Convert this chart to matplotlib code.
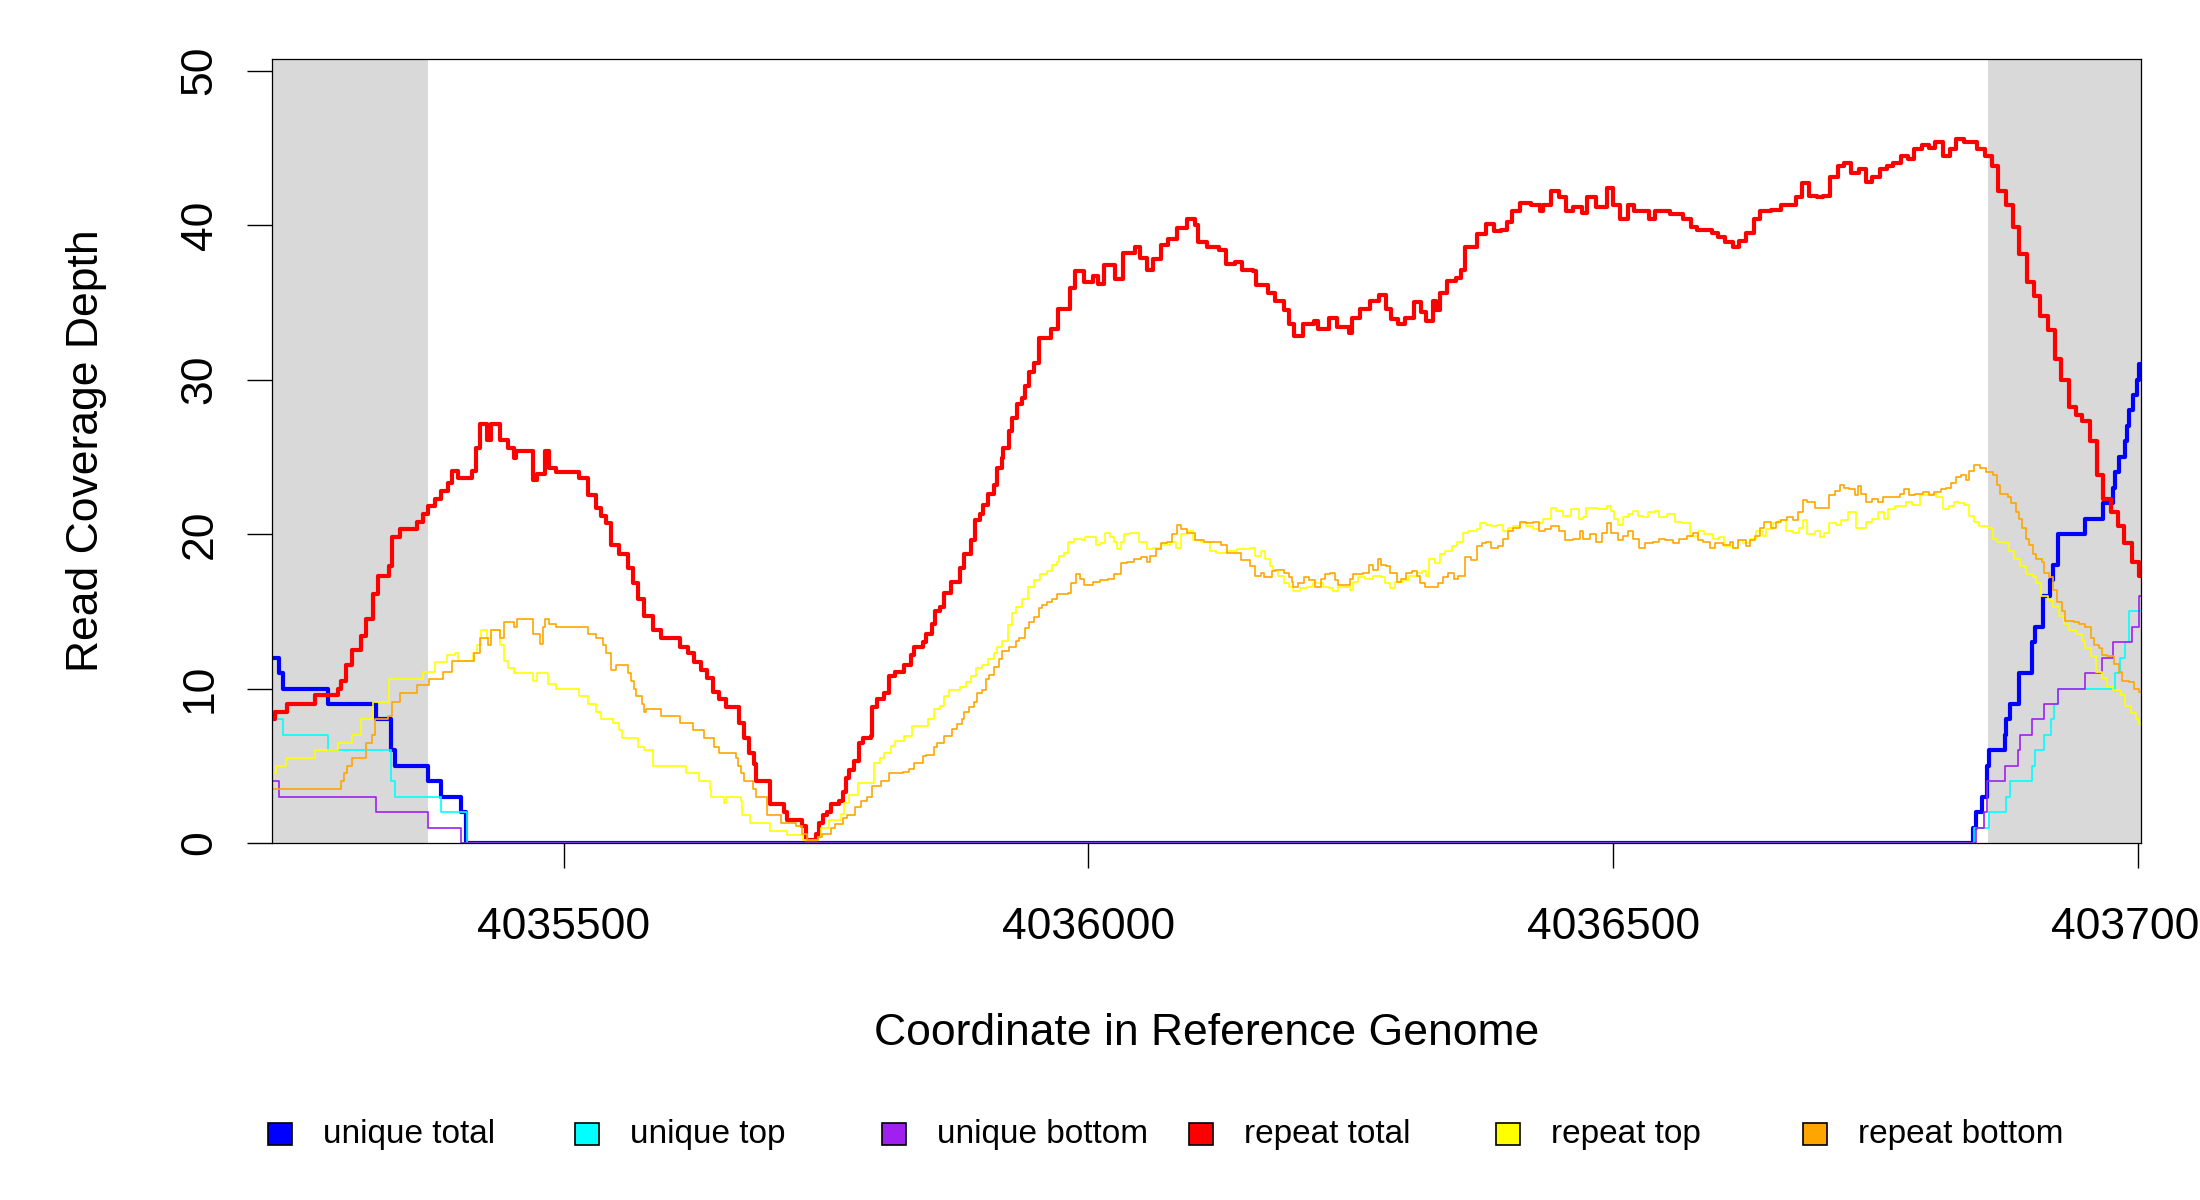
import matplotlib
matplotlib.use("Agg")
import matplotlib.pyplot as plt
from matplotlib.patches import Rectangle

plt.rcParams['font.family'] = ['Liberation Sans', 'DejaVu Sans']

# coverage traces (position, depth), drawn as steps
unique_total_pos = [4035222, 4035229, 4035233, 4035275, 4035321, 4035335, 4035339, 4035371, 4035383, 4035402,
                    4035407, 4036843, 4036846, 4036851, 4036856, 4036858, 4036873, 4036874, 4036878, 4036887,
                    4036899, 4036902, 4036910, 4036916, 4036919, 4036924, 4036950, 4036967, 4036976, 4036978,
                    4036982, 4036988, 4036990, 4036992, 4036995, 4036999, 4037001]
unique_total_depth = [12, 11, 10, 9, 8, 6, 5, 4, 3, 2,
                      0, 1, 2, 3, 5, 6, 7, 8, 9, 11,
                      13, 14, 16, 17, 18, 20, 21, 22, 23, 24,
                      25, 26, 27, 28, 29, 30, 31]

unique_top_pos = [4035222, 4035233, 4035275, 4035335, 4035339, 4035383, 4035408, 4036844, 4036858, 4036874,
                  4036878, 4036899, 4036902, 4036911, 4036917, 4036920, 4036924, 4036978, 4036983, 4036988,
                  4036992]
unique_top_depth = [8, 7, 6, 4, 3, 2, 0, 1, 2, 3,
                    4, 5, 6, 7, 8, 9, 10, 11, 12, 13,
                    15]

unique_bottom_pos = [4035222, 4035229, 4035321, 4035371, 4035402, 4036846, 4036853, 4036856, 4036873, 4036886,
                     4036888, 4036899, 4036911, 4036924, 4036950, 4036966, 4036976, 4036994, 4037001]
unique_bottom_depth = [4, 3, 2, 1, 0, 1, 2, 4, 5, 6,
                       7, 8, 9, 10, 11, 12, 13, 14, 16]

repeat_total_pos = [
    4035222, 4035225, 4035236, 4035263, 4035285, 4035288, 4035293, 4035298, 4035307, 4035312,
    4035318, 4035323, 4035334, 4035336, 4035344, 4035360, 4035366, 4035371, 4035377, 4035383,
    4035390, 4035394, 4035399, 4035413, 4035416, 4035420, 4035427, 4035431, 4035439, 4035447,
    4035453, 4035455, 4035471, 4035475, 4035482, 4035486, 4035493, 4035515, 4035523, 4035531,
    4035536, 4035540, 4035545, 4035553, 4035561, 4035566, 4035571, 4035577, 4035585, 4035593,
    4035611, 4035618, 4035624, 4035631, 4035637, 4035642, 4035648, 4035655, 4035667, 4035672,
    4035677, 4035681, 4035683, 4035697, 4035710, 4035713, 4035727, 4035731, 4035740, 4035743,
    4035747, 4035751, 4035755, 4035762, 4035766, 4035769, 4035772, 4035777, 4035781, 4035785,
    4035793, 4035794, 4035799, 4035805, 4035810, 4035816, 4035824, 4035831, 4035834, 4035842,
    4035845, 4035851, 4035854, 4035859, 4035862, 4035869, 4035878, 4035881, 4035888, 4035892,
    4035897, 4035900, 4035904, 4035910, 4035913, 4035918, 4035919, 4035924, 4035927, 4035932,
    4035937, 4035940, 4035943, 4035948, 4035953, 4035964, 4035971, 4035982, 4035987, 4035996,
    4036004, 4036009, 4036015, 4036025, 4036033, 4036044, 4036049, 4036056, 4036062, 4036069,
    4036076, 4036084, 4036094, 4036102, 4036104, 4036113, 4036124, 4036131, 4036140, 4036146,
    4036157, 4036160, 4036171, 4036178, 4036186, 4036191, 4036196, 4036204, 4036215, 4036219,
    4036229, 4036237, 4036248, 4036251, 4036259, 4036268, 4036277, 4036284, 4036288, 4036295,
    4036302, 4036310, 4036317, 4036322, 4036328, 4036331, 4036335, 4036342, 4036350, 4036355,
    4036359, 4036370, 4036379, 4036386, 4036393, 4036399, 4036404, 4036411, 4036422, 4036430,
    4036433, 4036441, 4036448, 4036455, 4036462, 4036470, 4036475, 4036484, 4036494, 4036500,
    4036507, 4036514, 4036520, 4036534, 4036540, 4036554, 4036567, 4036574, 4036580, 4036594,
    4036600, 4036607, 4036614, 4036620, 4036627, 4036634, 4036640, 4036650, 4036660, 4036674,
    4036680, 4036687, 4036694, 4036700, 4036707, 4036714, 4036720, 4036727, 4036734, 4036741,
    4036747, 4036754, 4036761, 4036767, 4036774, 4036781, 4036787, 4036794, 4036801, 4036807,
    4036814, 4036821, 4036827, 4036834, 4036847, 4036854, 4036861, 4036867, 4036874, 4036881,
    4036887, 4036894, 4036901, 4036907, 4036914, 4036921, 4036927, 4036934, 4036941, 4036947,
    4036954, 4036961, 4036967, 4036974, 4036981, 4036987, 4036994, 4037001]
repeat_total_depth = [
    8.0, 8.5, 9.0, 9.6, 10.0, 10.5, 11.5, 12.5, 13.4, 14.5,
    16.1, 17.3, 17.9, 19.8, 20.3, 20.8, 21.3, 21.8, 22.3, 22.8,
    23.3, 24.1, 23.6, 24.1, 25.6, 27.1, 26.1, 27.1, 26.1, 25.6,
    24.9, 25.4, 23.5, 23.9, 25.4, 24.3, 24.0, 23.6, 22.5, 21.7,
    21.2, 20.7, 19.3, 18.7, 17.8, 16.8, 15.8, 14.7, 13.8, 13.3,
    12.7, 12.3, 11.7, 11.2, 10.7, 9.8, 9.3, 8.8, 7.8, 6.8,
    5.8, 5.1, 4.0, 2.5, 2.0, 1.5, 1.1, 0.2, 0.6, 1.3,
    1.8, 2.0, 2.5, 2.7, 3.3, 4.2, 4.7, 5.3, 6.5, 6.8,
    6.9, 8.8, 9.3, 9.7, 10.8, 11.1, 11.5, 12.2, 12.7, 13.0,
    13.5, 14.2, 15.0, 15.3, 16.2, 16.9, 17.8, 18.7, 19.6, 20.9,
    21.3, 21.9, 22.6, 23.2, 24.3, 24.9, 25.6, 26.7, 27.5, 28.4,
    28.8, 29.6, 30.5, 31.1, 32.7, 33.3, 34.6, 35.9, 37.0, 36.3,
    36.7, 36.2, 37.4, 36.5, 38.2, 38.6, 37.9, 37.1, 37.8, 38.7,
    39.1, 39.8, 40.4, 40.0, 38.9, 38.6, 38.4, 37.5, 37.6, 37.1,
    37.0, 36.1, 35.6, 35.1, 34.5, 33.6, 32.8, 33.6, 33.8, 33.3,
    34.0, 33.4, 33.0, 34.0, 34.6, 35.1, 35.5, 34.6, 33.9, 33.6,
    34.0, 35.0, 34.4, 33.8, 35.1, 34.5, 35.6, 36.4, 36.6, 37.1,
    38.6, 39.4, 40.1, 39.6, 39.7, 40.2, 40.9, 41.4, 41.3, 40.9,
    41.3, 42.2, 41.8, 40.9, 41.2, 40.8, 41.8, 41.2, 42.4, 41.3,
    40.4, 41.3, 40.9, 40.4, 40.9, 40.7, 40.4, 39.9, 39.7, 39.5,
    39.2, 38.9, 38.6, 39.0, 39.5, 40.4, 40.9, 41.0, 41.3, 41.8,
    42.7, 41.9, 41.8, 41.9, 43.1, 43.8, 44.0, 43.4, 43.6, 42.8,
    43.1, 43.6, 43.8, 44.0, 44.5, 44.3, 44.9, 45.2, 45.0, 45.4,
    44.5, 44.9, 45.6, 45.4, 44.9, 44.5, 43.8, 42.2, 41.3, 39.9,
    38.1, 36.3, 35.4, 34.1, 33.2, 31.3, 30.0, 28.2, 27.7, 27.3,
    26.0, 23.8, 22.3, 21.4, 20.5, 19.4, 18.2, 17.3]

repeat_top_pos = [
    4035222, 4035226, 4035235, 4035263, 4035285, 4035298, 4035307, 4035318, 4035334, 4035366,
    4035377, 4035389, 4035396, 4035399, 4035414, 4035417, 4035421, 4035427, 4035431, 4035439,
    4035443, 4035447, 4035453, 4035471, 4035475, 4035485, 4035493, 4035515, 4035523, 4035531,
    4035536, 4035547, 4035553, 4035556, 4035571, 4035577, 4035585, 4035617, 4035629, 4035639,
    4035640, 4035653, 4035655, 4035669, 4035670, 4035678, 4035697, 4035713, 4035728, 4035742,
    4035745, 4035753, 4035764, 4035767, 4035772, 4035780, 4035796, 4035801, 4035805, 4035812,
    4035816, 4035824, 4035832, 4035847, 4035853, 4035859, 4035862, 4035867, 4035878, 4035883,
    4035888, 4035893, 4035899, 4035904, 4035910, 4035913, 4035918, 4035923, 4035927, 4035931,
    4035937, 4035942, 4035948, 4035954, 4035961, 4035965, 4035970, 4035972, 4035977, 4035981,
    4035986, 4035994, 4035997, 4036007, 4036011, 4036016, 4036021, 4036024, 4036027, 4036031,
    4036034, 4036040, 4036048, 4036056, 4036062, 4036069, 4036078, 4036083, 4036088, 4036094,
    4036100, 4036107, 4036116, 4036122, 4036132, 4036142, 4036154, 4036159, 4036164, 4036168,
    4036173, 4036176, 4036181, 4036186, 4036191, 4036195, 4036202, 4036208, 4036214, 4036224,
    4036229, 4036233, 4036238, 4036249, 4036252, 4036257, 4036264, 4036271, 4036279, 4036283,
    4036287, 4036292, 4036300, 4036305, 4036313, 4036318, 4036322, 4036325, 4036330, 4036335,
    4036340, 4036346, 4036351, 4036357, 4036362, 4036370, 4036373, 4036379, 4036384, 4036389,
    4036395, 4036400, 4036405, 4036411, 4036417, 4036424, 4036429, 4036433, 4036441, 4036446,
    4036452, 4036460, 4036467, 4036471, 4036474, 4036486, 4036494, 4036498, 4036501, 4036505,
    4036509, 4036514, 4036519, 4036524, 4036528, 4036533, 4036540, 4036544, 4036551, 4036559,
    4036566, 4036573, 4036581, 4036587, 4036595, 4036601, 4036606, 4036614, 4036619, 4036624,
    4036630, 4036636, 4036643, 4036646, 4036652, 4036658, 4036665, 4036671, 4036677, 4036681,
    4036685, 4036692, 4036697, 4036701, 4036706, 4036712, 4036717, 4036724, 4036731, 4036741,
    4036747, 4036752, 4036758, 4036762, 4036769, 4036779, 4036785, 4036792, 4036800, 4036808,
    4036814, 4036820, 4036825, 4036830, 4036834, 4036839, 4036844, 4036849, 4036857, 4036862,
    4036866, 4036873, 4036877, 4036882, 4036888, 4036893, 4036900, 4036903, 4036908, 4036914,
    4036919, 4036925, 4036930, 4036934, 4036941, 4036947, 4036950, 4036955, 4036960, 4036966,
    4036971, 4036976, 4036984, 4036988, 4036993, 4036998, 4037001]
repeat_top_depth = [
    4.5, 5.0, 5.5, 6.0, 6.5, 7.0, 8.0, 9.1, 10.6, 11.1,
    11.7, 12.2, 12.3, 11.8, 12.3, 12.8, 13.8, 13.3, 13.8, 12.8,
    11.8, 11.3, 11.0, 10.5, 11.0, 10.3, 10.0, 9.5, 9.0, 8.5,
    8.0, 7.8, 7.3, 6.8, 6.2, 6.0, 5.0, 4.5, 4.0, 3.5,
    3.0, 2.6, 3.0, 2.7, 1.8, 1.3, 0.8, 0.5, 0.2, 0.4,
    1.0, 1.5, 1.9, 2.6, 3.1, 3.9, 5.2, 5.5, 5.8, 6.3,
    6.6, 6.9, 7.6, 8.0, 8.7, 8.9, 9.5, 9.9, 10.1, 10.4,
    10.8, 11.3, 11.5, 11.9, 12.3, 12.7, 13.1, 14.1, 14.9, 15.3,
    15.8, 16.6, 17.0, 17.4, 17.6, 18.0, 18.2, 18.6, 18.8, 19.5,
    19.7, 19.6, 19.8, 19.3, 19.4, 20.1, 19.8, 19.5, 19.0, 19.5,
    20.0, 20.1, 19.5, 19.0, 19.1, 19.3, 19.5, 19.1, 20.0, 20.2,
    19.6, 19.5, 18.9, 18.8, 18.9, 19.0, 19.1, 18.6, 18.9, 18.4,
    17.9, 17.6, 17.3, 16.8, 16.6, 16.3, 16.5, 16.6, 16.8, 16.6,
    16.5, 16.3, 16.6, 16.4, 16.9, 17.2, 17.1, 17.3, 17.2, 16.8,
    16.5, 16.9, 17.0, 17.3, 17.5, 17.6, 17.3, 18.4, 18.1, 18.7,
    18.9, 19.2, 19.5, 20.1, 20.2, 20.3, 20.7, 20.6, 20.5, 20.6,
    20.2, 20.4, 20.5, 20.7, 20.5, 20.3, 20.7, 21.0, 21.7, 21.5,
    21.2, 21.6, 21.0, 21.1, 21.7, 21.6, 21.8, 21.5, 21.0, 20.6,
    21.1, 21.3, 21.5, 21.2, 21.1, 21.4, 21.5, 21.1, 21.3, 20.8,
    20.7, 19.9, 20.2, 20.0, 19.7, 19.8, 19.2, 19.1, 19.6, 19.4,
    19.7, 20.2, 19.9, 20.3, 20.7, 20.9, 20.2, 20.1, 20.4, 20.9,
    20.0, 20.2, 19.8, 20.1, 20.7, 20.6, 20.9, 21.4, 20.4, 20.8,
    21.0, 21.4, 21.0, 21.6, 21.8, 22.1, 21.9, 22.5, 22.6, 22.4,
    21.6, 21.8, 22.1, 22.0, 21.9, 21.2, 20.8, 20.5, 20.4, 19.7,
    19.5, 19.4, 18.9, 18.4, 17.9, 17.4, 17.2, 16.8, 16.0, 15.7,
    15.3, 14.7, 14.2, 13.8, 13.5, 13.1, 12.6, 12.1, 11.1, 10.7,
    10.1, 9.9, 9.6, 8.9, 8.4, 8.0, 7.7]

repeat_bottom_pos = [
    4035222, 4035288, 4035291, 4035294, 4035298, 4035312, 4035317, 4035320, 4035333, 4035336,
    4035344, 4035360, 4035372, 4035385, 4035394, 4035415, 4035420, 4035428, 4035431, 4035439,
    4035443, 4035453, 4035456, 4035471, 4035477, 4035480, 4035482, 4035486, 4035493, 4035523,
    4035531, 4035537, 4035540, 4035545, 4035550, 4035561, 4035564, 4035567, 4035569, 4035575,
    4035577, 4035578, 4035593, 4035611, 4035623, 4035634, 4035643, 4035648, 4035664, 4035666,
    4035669, 4035672, 4035680, 4035683, 4035694, 4035707, 4035721, 4035727, 4035732, 4035742,
    4035746, 4035755, 4035759, 4035766, 4035770, 4035778, 4035783, 4035789, 4035794, 4035802,
    4035810, 4035823, 4035829, 4035834, 4035842, 4035845, 4035853, 4035856, 4035862, 4035870,
    4035875, 4035880, 4035881, 4035886, 4035891, 4035894, 4035899, 4035902, 4035905, 4035910,
    4035915, 4035918, 4035924, 4035931, 4035934, 4035940, 4035943, 4035948, 4035953, 4035956,
    4035961, 4035965, 4035970, 4035981, 4035983, 4035988, 4035992, 4035996, 4036004, 4036011,
    4036019, 4036024, 4036031, 4036037, 4036043, 4036050, 4036056, 4036059, 4036064, 4036069,
    4036075, 4036080, 4036084, 4036088, 4036094, 4036102, 4036110, 4036126, 4036132, 4036145,
    4036154, 4036159, 4036164, 4036167, 4036175, 4036178, 4036186, 4036191, 4036194, 4036195,
    4036200, 4036205, 4036210, 4036216, 4036222, 4036225, 4036230, 4036235, 4036238, 4036249,
    4036252, 4036262, 4036267, 4036271, 4036276, 4036279, 4036284, 4036287, 4036294, 4036298,
    4036303, 4036308, 4036313, 4036316, 4036321, 4036333, 4036338, 4036343, 4036348, 4036352,
    4036359, 4036365, 4036370, 4036375, 4036379, 4036384, 4036390, 4036395, 4036400, 4036405,
    4036411, 4036417, 4036424, 4036429, 4036435, 4036441, 4036448, 4036454, 4036462, 4036468,
    4036471, 4036478, 4036484, 4036489, 4036494, 4036498, 4036505, 4036509, 4036514, 4036519,
    4036525, 4036530, 4036538, 4036544, 4036549, 4036557, 4036563, 4036570, 4036576, 4036581,
    4036586, 4036592, 4036597, 4036605, 4036611, 4036614, 4036619, 4036627, 4036630, 4036635,
    4036640, 4036644, 4036650, 4036655, 4036660, 4036666, 4036671, 4036676, 4036681, 4036685,
    4036692, 4036706, 4036711, 4036716, 4036720, 4036725, 4036730, 4036733, 4036736, 4036741,
    4036747, 4036752, 4036757, 4036773, 4036777, 4036782, 4036788, 4036795, 4036801, 4036806,
    4036812, 4036817, 4036822, 4036827, 4036831, 4036836, 4036839, 4036844, 4036850, 4036855,
    4036862, 4036866, 4036869, 4036876, 4036879, 4036884, 4036887, 4036890, 4036893, 4036896,
    4036900, 4036903, 4036909, 4036911, 4036915, 4036919, 4036923, 4036928, 4036931, 4036939,
    4036944, 4036950, 4036955, 4036958, 4036963, 4036966, 4036971, 4036977, 4036982, 4036985,
    4036992, 4036996, 4037001]
repeat_bottom_depth = [
    3.5, 4.0, 4.5, 5.0, 5.5, 6.5, 7.0, 8.0, 8.2, 9.1,
    9.7, 10.2, 10.6, 11.1, 11.8, 12.3, 13.3, 12.8, 13.8, 13.3,
    14.3, 14.0, 14.5, 13.5, 12.9, 14.0, 14.5, 14.2, 14.0, 13.5,
    13.3, 12.8, 12.3, 11.2, 11.5, 11.0, 10.5, 10.0, 9.5, 9.0,
    8.5, 8.7, 8.2, 7.8, 7.3, 6.8, 6.2, 5.8, 5.5, 5.0,
    4.5, 4.0, 3.5, 3.0, 1.8, 1.3, 1.1, 0.6, 0.2, 0.4,
    0.6, 1.0, 1.2, 1.6, 1.8, 2.3, 2.7, 3.0, 3.7, 4.0,
    4.5, 4.6, 4.8, 5.2, 5.6, 5.7, 6.2, 6.5, 6.9, 7.4,
    7.7, 8.0, 8.5, 8.8, 9.1, 9.7, 9.9, 10.6, 10.9, 11.4,
    11.9, 12.4, 12.7, 13.1, 13.3, 13.9, 14.3, 14.6, 15.2, 15.4,
    15.6, 15.8, 16.1, 16.2, 16.8, 17.4, 17.1, 16.7, 16.9, 17.0,
    17.1, 17.4, 18.1, 18.2, 18.4, 18.5, 18.2, 18.6, 19.0, 19.4,
    19.5, 20.0, 20.6, 20.3, 20.1, 19.6, 19.5, 19.3, 18.8, 18.3,
    17.9, 17.3, 17.5, 17.2, 17.6, 17.7, 17.5, 17.2, 16.9, 16.6,
    16.8, 17.2, 17.0, 16.6, 17.1, 17.4, 17.5, 17.0, 16.7, 17.1,
    17.4, 17.5, 18.0, 17.7, 18.4, 18.0, 17.9, 17.5, 16.9, 17.1,
    17.5, 17.6, 17.3, 16.8, 16.6, 16.8, 17.2, 17.5, 17.1, 17.3,
    18.5, 18.3, 19.2, 19.4, 19.5, 19.1, 19.2, 19.7, 20.2, 20.4,
    20.8, 20.7, 20.8, 20.2, 20.3, 20.5, 20.2, 19.6, 19.7, 20.2,
    19.7, 20.0, 19.5, 20.1, 20.7, 20.1, 19.6, 19.9, 20.2, 19.7,
    19.1, 19.4, 19.5, 19.7, 19.6, 19.4, 19.7, 19.9, 20.1, 19.6,
    19.5, 19.1, 19.4, 19.3, 19.5, 19.1, 19.6, 19.2, 19.6, 19.9,
    20.4, 20.8, 20.4, 20.8, 20.9, 21.1, 20.9, 21.4, 22.2, 22.1,
    21.7, 22.5, 22.8, 23.2, 23.0, 22.9, 22.5, 23.1, 22.6, 22.1,
    22.3, 22.1, 22.4, 22.6, 22.9, 22.5, 22.6, 22.7, 22.5, 22.7,
    22.9, 23.0, 23.3, 23.7, 23.8, 23.5, 24.1, 24.5, 24.3, 24.0,
    23.8, 23.2, 22.6, 22.4, 22.0, 21.4, 21.0, 20.4, 19.7, 19.3,
    18.7, 18.4, 18.2, 17.5, 17.2, 16.4, 15.6, 15.0, 14.4, 14.3,
    14.2, 14.0, 13.3, 12.8, 12.6, 12.2, 12.1, 11.6, 11.1, 10.5,
    10.4, 10.0, 9.8]

legend_labels = ['unique total', 'unique top', 'unique bottom',
                 'repeat total', 'repeat top', 'repeat bottom']
colours = ['#0000ff', '#00ffff', '#a020f0', '#ff0000', '#ffff00', '#ffa500']

# shaded flanks of the window
flank_regions = [(4035222, 4035371), (4036857, 4037003)]
x_ticks = [4035500, 4036000, 4036500, 4037000]
y_ticks = [0, 10, 20, 30, 40, 50]

X_MIN, X_MAX = 4035222, 4037003

fig = plt.figure(figsize=(22, 12), dpi=100)
ax = fig.add_axes([0.1236, 0.2975, 0.8496, 0.6533])

for lo, hi in flank_regions:
    ax.axvspan(lo, hi, color='#d9d9d9', lw=0, zorder=0)


def trace(pos, depth, colour, lw):
    # extend the last step to the right edge of the window
    ax.step(pos + [X_MAX], depth + [depth[-1]], where='post',
            color=colour, lw=lw, zorder=2)


series = [(unique_total_pos, unique_total_depth, 3.0),
          (unique_top_pos, unique_top_depth, 1.2),
          (unique_bottom_pos, unique_bottom_depth, 1.2),
          (repeat_total_pos, repeat_total_depth, 3.0),
          (repeat_top_pos, repeat_top_depth, 1.2),
          (repeat_bottom_pos, repeat_bottom_depth, 1.2)]
for (pos, depth, lw), colour in zip(series, colours):
    trace(pos, depth, colour, lw)

ax.set_xlim(X_MIN, X_MAX)
ax.set_ylim(0, 50.75)

ax.set_xticks(x_ticks)
ax.set_xticklabels([str(t) for t in x_ticks])
ax.set_yticks(y_ticks)
ax.set_yticklabels([str(t) for t in y_ticks])
ax.tick_params(axis='both', length=18, width=1.0, labelsize=32, direction='out')
ax.tick_params(axis='x', pad=28)
ax.tick_params(axis='y', pad=19, labelrotation=90)
for lab in ax.get_yticklabels():
    lab.set_va('center')

for sp in ax.spines.values():
    sp.set_linewidth(0.9)
    sp.set_color('black')
    sp.set_zorder(3)

ax.set_xlabel('Coordinate in Reference Genome', fontsize=32)
ax.xaxis.set_label_coords(0.5, -0.243)
ax.xaxis.label.set_va('center')
ax.set_ylabel('Read Coverage Depth', fontsize=32)
ax.yaxis.set_label_coords(-0.099, 0.5)
ax.yaxis.label.set_va('center')

# legend row under the plot, evenly spaced like the original
leg_y = 1 - 1134 / 1200
for i, (lab, colour) in enumerate(zip(legend_labels, colours)):
    x0 = (268 + 307 * i) / 2200
    fig.add_artist(Rectangle((x0, leg_y - 11 / 1200), 24 / 2200, 22 / 1200,
                             transform=fig.transFigure, facecolor=colour,
                             edgecolor='black', lw=1.2))
    fig.text((323 + 307 * i) / 2200, leg_y, lab, fontsize=24,
             va='center', ha='left')

fig.savefig('out.png', dpi=100)
